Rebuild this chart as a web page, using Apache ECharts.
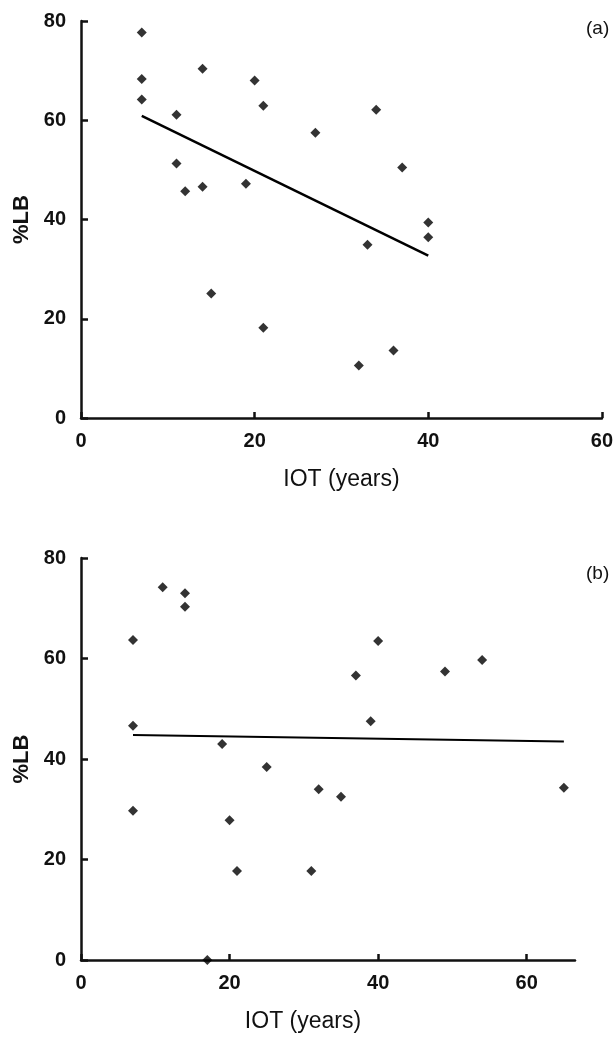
<!DOCTYPE html>
<html>
<head>
<meta charset="utf-8">
<script src="https://cdn.jsdelivr.net/npm/echarts@6/dist/echarts.min.js"></script>
<style>
  html, body { margin: 0; padding: 0; background: #fff; }
  #chart { width: 616px; height: 1041px; }
</style>
</head>
<body>
<div id="chart"></div>
<script>
// panel (a)
var iotA = [7, 7, 7, 11, 11, 12, 14, 14, 15, 19, 20, 21, 21, 27, 32, 33, 34, 36, 37, 40, 40];
var lbA = [77.7, 68.3, 64.2, 61.1, 51.3, 45.7, 70.4, 46.6, 25.1, 47.2, 68.0, 62.9, 18.2, 57.5, 10.6, 34.9, 62.1, 13.6, 50.5, 39.4, 36.4];
var fitAx = [7, 40];
var fitAy = [60.9, 32.7];

// panel (b)
var iotB = [7, 7, 7, 11, 14, 14, 17, 19, 20, 21, 25, 31, 32, 35, 37, 39, 40, 49, 54, 65];
var lbB = [63.7, 46.6, 29.7, 74.2, 73.0, 70.3, 0, 43.0, 27.8, 17.7, 38.4, 17.7, 34.0, 32.5, 56.6, 47.5, 63.5, 57.4, 59.7, 34.3];
var fitBx = [7, 65];
var fitBy = [44.8, 43.5];

var yTicks = [0, 20, 40, 60, 80];
var xTicks = [0, 20, 40, 60];

function pairs(xs, ys) {
    return xs.map(function (x, i) { return [x, ys[i]]; });
}

var chart = echarts.init(document.getElementById('chart'));
var font = 'Liberation Sans, Arial, sans-serif';
var axisLine = { show: true, lineStyle: { color: '#111', width: 2.5 } };
var tickLbl = { color: '#111', fontFamily: font, fontSize: 20, fontWeight: 'bold' };

function xAxis(gridIndex, max, padRight) {
    return {
        type: 'value', gridIndex: gridIndex, min: 0, max: max, interval: 20,
        name: 'IOT (years)', nameLocation: 'middle', nameGap: 50,
        nameTextStyle: { color: '#111', fontFamily: font, fontSize: 23, padding: [0, padRight, 0, 0] },
        axisLine: axisLine,
        axisTick: { show: true, inside: true, length: 6, customValues: xTicks, lineStyle: { color: '#111', width: 2.5 } },
        axisLabel: Object.assign({ margin: 13, customValues: xTicks }, tickLbl),
        splitLine: { show: false }
    };
}

function yAxis(gridIndex) {
    return {
        type: 'value', gridIndex: gridIndex, min: 0, max: 80, interval: 20,
        name: '%LB', nameLocation: 'middle', nameGap: 48,
        nameTextStyle: { color: '#111', fontFamily: font, fontSize: 22, fontWeight: 'bold' },
        axisLine: axisLine,
        axisTick: { show: true, inside: true, length: 7, customValues: yTicks, lineStyle: { color: '#111', width: 2.5 } },
        axisLabel: Object.assign({ margin: 15, customValues: yTicks }, tickLbl),
        splitLine: { show: false }
    };
}

var dot = { color: '#000' };

option = {
    animation: false,
    backgroundColor: '#fff',
    title: [
        { text: '(a)', left: 581, top: 14, textStyle: { fontFamily: font, fontSize: 19, fontWeight: 'normal', color: '#111' } },
        { text: '(b)', left: 581, top: 559, textStyle: { fontFamily: font, fontSize: 19, fontWeight: 'normal', color: '#111' } }
    ],
    grid: [
        { left: 81, top: 21, width: 521, height: 397 },
        { left: 81, top: 558, width: 494, height: 402 }
    ],
    xAxis: [xAxis(0, 60, 0), xAxis(1, 66.5, 50)],
    yAxis: [yAxis(0), yAxis(1)],
    series: [
        {
            type: 'scatter', xAxisIndex: 0, yAxisIndex: 0, symbol: 'diamond', symbolSize: [10, 10],
            itemStyle: dot, clip: false, data: pairs(iotA, lbA)
        },
        {
            type: 'line', xAxisIndex: 0, yAxisIndex: 0, symbol: 'none',
            lineStyle: { color: '#000', width: 2.5 }, data: pairs(fitAx, fitAy)
        },
        {
            type: 'scatter', xAxisIndex: 1, yAxisIndex: 1, symbol: 'diamond', symbolSize: [10, 10],
            itemStyle: dot, clip: false, data: pairs(iotB, lbB)
        },
        {
            type: 'line', xAxisIndex: 1, yAxisIndex: 1, symbol: 'none',
            lineStyle: { color: '#000', width: 2 }, data: pairs(fitBx, fitBy)
        }
    ]
};
chart.setOption(option);
</script>
</body>
</html>
